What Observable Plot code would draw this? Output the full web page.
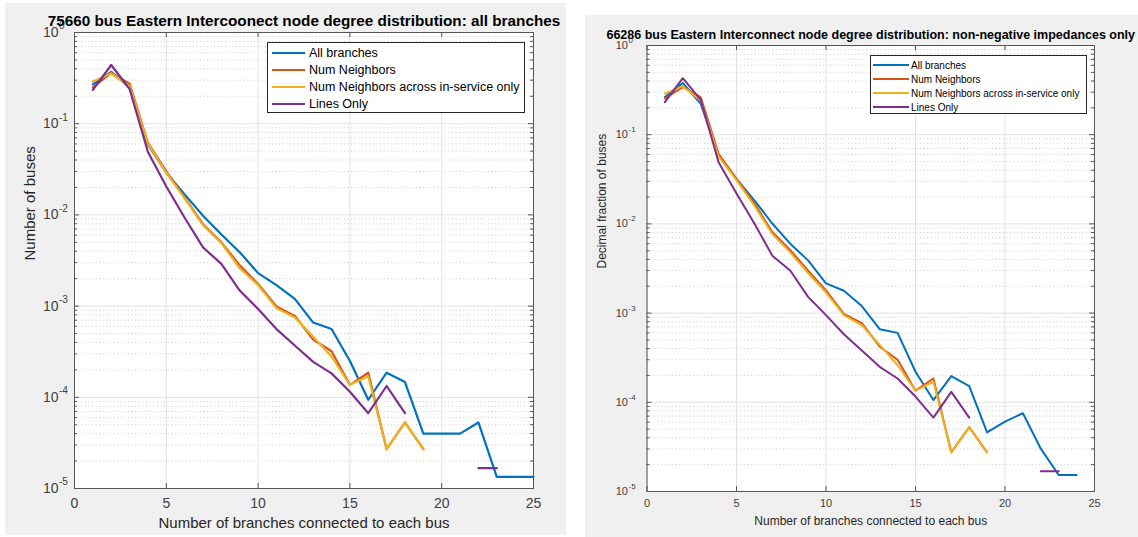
<!DOCTYPE html>
<html><head><meta charset="utf-8">
<script src="https://cdn.jsdelivr.net/npm/d3@7"></script>
<script src="https://cdn.jsdelivr.net/npm/@observablehq/plot@0.6"></script>
<style>
body{margin:0;background:#fff;width:1138px;height:537px;position:relative;overflow:hidden;font-family:"Liberation Sans",Arial,sans-serif;}
.panel{position:absolute;background:#f0f0f0;}
.panel svg{position:absolute;left:0;top:0;}
.legend{position:absolute;background:#fff;border:1px solid #262626;box-sizing:border-box;}
.legend .row{position:absolute;left:0;display:flex;align-items:center;white-space:nowrap;color:#000;}
</style></head><body>
<div id="p1" class="panel" style="left:5px;top:3px;width:561px;height:532px"></div>
<div id="p2" class="panel" style="left:585px;top:15px;width:553px;height:522px"></div>
<script>
// ---- data ----
const degree = d3.range(1, 26);
const seriesNames = ["All branches", "Num Neighbors", "Num Neighbors across in-service only", "Lines Only"];
const seriesColors = ["#0072BD", "#D95319", "#EDB120", "#7E2F8E"];
const xTicks = [0, 5, 10, 15, 20, 25];
const yMajor = [1, 0.1, 0.01, 0.001, 0.0001, 0.00001];

// left panel: all branches (x = 1..25)
const allBranchesA = [0.27, 0.37, 0.25, 0.059, 0.029, 0.0168, 0.0098, 0.0061, 0.0039, 0.0023, 0.0017, 0.0012, 0.00066, 0.00056, 0.00025, 0.000094, 0.000186, 0.000147, 0.00004, 0.00004, 0.00004, 0.000053, 0.0000134, 0.0000134, 0.0000134];
const numNeighborsA = [0.25, 0.36, 0.275, 0.0615, 0.03, 0.0155, 0.0079, 0.005, 0.0028, 0.00175, 0.00099, 0.00078, 0.00043, 0.00032, 0.000137, 0.000186, 0.000027, 0.000053, 0.000027, null, null, null, null, null, null];
const inServiceA = [0.29, 0.355, 0.26, 0.06, 0.029, 0.0152, 0.0077, 0.0049, 0.0026, 0.0017, 0.00095, 0.00075, 0.00046, 0.00028, 0.000137, 0.00017, 0.000027, 0.000053, 0.000027, null, null, null, null, null, null];
const linesOnlyA = [0.235, 0.44, 0.24, 0.049, 0.0205, 0.0093, 0.0044, 0.0029, 0.00148, 0.00093, 0.00056, 0.00037, 0.000245, 0.000183, 0.000115, 0.000067, 0.000133, 0.000067, null, null, null, 0.0000167, 0.0000167, null, null];

// right panel: non-negative impedances only
const allBranchesB = [0.264, 0.38, 0.222, 0.0587, 0.032, 0.0184, 0.0101, 0.006, 0.0039, 0.00215, 0.00178, 0.0012, 0.00066, 0.0006, 0.00022, 0.000106, 0.000197, 0.000152, 0.0000459, 0.0000608, 0.0000754, 0.0000302, 0.0000153, 0.0000153, null];
const numNeighborsB = [0.255, 0.342, 0.264, 0.061, 0.032, 0.017, 0.0081, 0.0051, 0.003, 0.0018, 0.00098, 0.00077, 0.00042, 0.0003, 0.000135, 0.000185, 0.0000275, 0.0000526, 0.0000275, null, null, null, null, null, null];
const inServiceB = [0.29, 0.35, 0.24, 0.057, 0.031, 0.016, 0.0077, 0.0048, 0.0028, 0.0017, 0.00095, 0.00073, 0.00044, 0.00026, 0.000135, 0.00017, 0.0000275, 0.0000526, 0.0000275, null, null, null, null, null, null];
const linesOnlyB = [0.232, 0.43, 0.245, 0.049, 0.0219, 0.0101, 0.0044, 0.003, 0.00152, 0.00095, 0.00058, 0.00038, 0.00025, 0.000185, 0.000116, 0.0000674, 0.000131, 0.0000674, null, null, null, 0.0000169, 0.0000169, null, null];

// ---- helpers ----
const yMinor = [];
for (const d of yMajor.slice(1)) for (let k = 2; k <= 9; k++) yMinor.push(k * d);

function panel(o) {
  const rows = [];
  o.series.forEach((vals, i) => vals.forEach((v, j) => rows.push({x: degree[j], y: v, s: seriesNames[i]})));
  const W = o.width - o.ml - o.mr, H = o.height - o.mt - o.mb;
  const tc = "#262626";
  return Plot.plot({
    width: o.width, height: o.height,
    marginLeft: o.ml, marginRight: o.mr, marginTop: o.mt, marginBottom: o.mb,
    style: {background: "transparent", fontFamily: "Liberation Sans, Arial, sans-serif", overflow: "visible"},
    x: {domain: [0, 25], axis: null},
    y: {type: "log", domain: [1e-5, 1], axis: null},
    color: {domain: seriesNames, range: seriesColors},
    marks: [
      Plot.frame({fill: "white"}),
      Plot.ruleY(yMinor, {y: d => d, stroke: "#c8c8c8", strokeDasharray: "1,2.6"}),
      Plot.ruleX(xTicks, {x: d => d, stroke: "#e2e2e2"}),
      Plot.ruleY(yMajor, {y: d => d, stroke: "#e2e2e2"}),
      Plot.line(rows, {x: "x", y: "y", z: "s", stroke: "s", strokeWidth: o.lw}),
      Plot.tickY(yMajor, {y: d => d, insetRight: W - 5, stroke: "#555"}),
      Plot.tickY(yMajor, {y: d => d, insetLeft: W - 5, stroke: "#555"}),
      Plot.tickY(yMinor, {y: d => d, insetRight: W - 3, stroke: "#555"}),
      Plot.tickY(yMinor, {y: d => d, insetLeft: W - 3, stroke: "#555"}),
      Plot.tickX(xTicks, {x: d => d, insetTop: H - 5, stroke: "#555"}),
      Plot.tickX(xTicks, {x: d => d, insetBottom: H - 5, stroke: "#555"}),
      Plot.frame({stroke: "#555", strokeWidth: 1}),
      Plot.text(xTicks, {x: d => d, text: d => String(d), frameAnchor: "bottom", dy: o.xtDy, lineAnchor: "middle", fontSize: o.tfs, fill: "#404040"}),
      Plot.text(yMajor, {y: d => d, text: () => "10", frameAnchor: "left", dx: o.ytDx, textAnchor: "end", lineAnchor: "middle", fontSize: o.tfs, fill: "#404040"}),
      Plot.text(yMajor, {y: d => d, text: d => String(Math.round(Math.log10(d))), frameAnchor: "left", dx: o.ytDx + 0.5, dy: -o.tfs * 0.45, textAnchor: "start", lineAnchor: "middle", fontSize: o.tfs * 0.72, fill: "#404040"}),
      Plot.text([o.xlabel], {text: d => d, frameAnchor: "bottom", dy: o.xlDy, lineAnchor: "middle", fontSize: o.lfs, fill: tc}),
      Plot.text([o.ylabel], {text: d => d, frameAnchor: "left", dx: o.ylDx, rotate: -90, lineAnchor: "middle", fontSize: o.lfs, fill: tc}),
      Plot.text([o.title], {text: d => d, frameAnchor: "top", dy: o.tDy, lineAnchor: "middle", fontSize: o.titleFs, fontWeight: "bold", fill: "#000"})
    ]
  });
}

function legend(o) {
  const box = document.createElement("div");
  box.className = "legend";
  Object.assign(box.style, {left: o.left + "px", top: o.top + "px", width: o.width + "px", height: o.height + "px"});
  seriesNames.forEach((name, i) => {
    const row = document.createElement("div");
    row.className = "row";
    row.style.top = (o.rowY[i] - 8) + "px";
    row.style.height = "16px";
    row.style.fontSize = o.fs + "px";
    row.innerHTML = `<svg width="${o.textX}" height="16" style="position:static;flex:none"><line x1="${o.sw0}" x2="${o.sw1}" y1="8" y2="8" stroke="${seriesColors[i]}" stroke-width="${o.lw}"/></svg><span>${name}</span>`;
    box.appendChild(row);
  });
  document.body.appendChild(box);
}

document.getElementById("p1").appendChild(panel({
  width: 561, height: 532, ml: 69, mr: 33, mt: 29, mb: 47,
  series: [allBranchesA, numNeighborsA, inServiceA, linesOnlyA],
  lw: 2.2, tfs: 14, lfs: 15, titleFs: 15.3,
  xtDy: 15, ytDx: -16, xlDy: 35, ylDx: -44, tDy: -11,
  title: "75660 bus Eastern Intercoonect node degree distribution: all branches",
  xlabel: "Number of branches connected to each bus",
  ylabel: "Number of buses"
}));
document.getElementById("p2").appendChild(panel({
  width: 553, height: 522, ml: 61.5, mr: 44, mt: 30, mb: 46,
  series: [allBranchesB, numNeighborsB, inServiceB, linesOnlyB],
  lw: 2, tfs: 11, lfs: 12, titleFs: 12.5,
  xtDy: 12, ytDx: -19, xlDy: 30, ylDx: -45, tDy: -10.5,
  title: "66286 bus Eastern Interconnect node degree distribution: non-negative impedances only",
  xlabel: "Number of branches connected to each bus",
  ylabel: "Decimal fraction of buses"
}));

legend({left: 267, top: 42, width: 258, height: 71, rowY: [10, 27, 44, 61], fs: 12.5, textX: 41, sw0: 4, sw1: 37, lw: 2.2});
legend({left: 870, top: 55, width: 217, height: 59, rowY: [9, 23, 37, 51], fs: 10, textX: 40, sw0: 2, sw1: 38, lw: 2});
</script>
</body></html>
